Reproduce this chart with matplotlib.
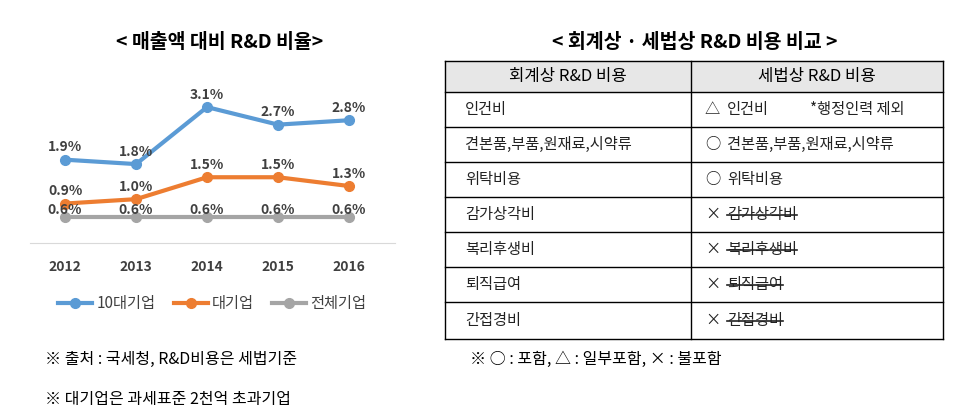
import matplotlib
matplotlib.use("Agg")
import matplotlib.pyplot as plt

plt.rcParams["font.family"] = ["Noto Sans CJK JP", "Noto Sans CJK KR", "Noto Sans CJK SC", "DejaVu Sans"]

years = ["2012", "2013", "2014", "2015", "2016"]
top10 = [1.9, 1.8, 3.1, 2.7, 2.8]
large = [0.9, 1.0, 1.5, 1.5, 1.3]
total = [0.6, 0.6, 0.6, 0.6, 0.6]
series_names = ["10대기업", "대기업", "전체기업"]
table_header = ["회계상 R&D 비용", "세법상 R&D 비용"]
left_col = ["인건비", "견본품,부품,원재료,시약류", "위탁비용", "감가상각비", "복리후생비", "퇴직급여", "간접경비"]
right_mark = ["△", "○", "○", "×", "×", "×", "×"]
right_text = ["인건비", "견본품,부품,원재료,시약류", "위탁비용", "감가상각비", "복리후생비", "퇴직급여", "간접경비"]
right_note = ["*행정인력 제외", "", "", "", "", "", ""]
struck = [False, False, False, True, True, True, True]

W, H = 964, 419
fig = plt.figure(figsize=(W/100, H/100), dpi=100)

# line chart
ax = fig.add_axes([30/W, 1-243/H, 365/W, 153/H])
x = range(len(years))
cols = ["#5b9bd5", "#ed7d31", "#a5a5a5"]
for vals, c, nm in zip([top10, large, total], cols, series_names):
    ax.plot(x, vals, color=c, lw=3, marker="o", ms=7, label=nm)
    for i, v in enumerate(vals):
        ax.text(i, v + 0.28 if c != "#a5a5a5" else v + 0.15, f"{v:.1f}%", ha="center", va="center",
                fontsize=10, fontweight="bold", color="#404040")
ax.set_xlim(-0.495, 4.65)
ax.set_ylim(0, 3.49)
for s in ["top", "left", "right"]:
    ax.spines[s].set_visible(False)
ax.spines["bottom"].set_color("#d9d9d9")
ax.set_yticks([])
ax.set_xticks(list(x))
ax.set_xticklabels(years, fontsize=10, fontweight="bold", color="#404040")
ax.tick_params(axis="x", length=0, pad=12)
ax.legend(loc="upper center", bbox_to_anchor=(0.5, -0.25), ncol=3, frameon=False,
          fontsize=11, handlelength=2.2, columnspacing=1.2, handletextpad=0.3,
          labelcolor="#404040")

fig.text(220/W, 1-42/H, "< 매출액 대비 R&D 비율>", ha="center", va="center", fontsize=14, fontweight="bold")
fig.text(695/W, 1-42/H, "< 회계상 · 세법상 R&D 비용 비교 >", ha="center", va="center", fontsize=14, fontweight="bold")

# table
tx = fig.add_axes([0, 0, 1, 1])
tx.set_xlim(0, W); tx.set_ylim(H, 0); tx.axis("off")
x0, xm, x1 = 445, 691, 943
rows = [61, 92, 127, 162, 197, 232, 267, 302, 339]
tx.fill_between([x0, x1], rows[0], rows[1], color="#e7e7e7")
for y in rows:
    tx.plot([x0, x1], [y, y], color="black", lw=1)
for xx in [x0, xm, x1]:
    tx.plot([xx, xx], [rows[0], rows[-1]], color="black", lw=1)
tx.text((x0+xm)/2, (rows[0]+rows[1])/2, table_header[0], ha="center", va="center", fontsize=12)
tx.text((xm+x1)/2, (rows[0]+rows[1])/2, table_header[1], ha="center", va="center", fontsize=12)
fig.canvas.draw()
for i in range(len(left_col)):
    yc = (rows[i+1]+rows[i+2])/2
    tx.text(465, yc, left_col[i], ha="left", va="center", fontsize=11, color="#222")
    tx.text(705, yc, right_mark[i], ha="left", va="center", fontsize=11, color="#222")
    t = tx.text(727, yc, right_text[i], ha="left", va="center", fontsize=11, color="#222")
    if right_note[i]:
        tx.text(810, yc, right_note[i], ha="left", va="center", fontsize=11, color="#222")
    if struck[i]:
        fig.canvas.draw()
        bb = t.get_window_extent()
        tx.plot([bb.x0, bb.x1], [yc, yc], color="#222", lw=1.2)

fig.text(45/W, 1-359/H, "※ 출처 : 국세청, R&D비용은 세법기준", ha="left", va="center", fontsize=11.5)
fig.text(45/W, 1-399/H, "※ 대기업은 과세표준 2천억 초과기업", ha="left", va="center", fontsize=11.5)
fig.text(470/W, 1-359/H, "※ ○ : 포함, △ : 일부포함, × : 불포함", ha="left", va="center", fontsize=11.5)

fig.savefig("out.png", dpi=100)
